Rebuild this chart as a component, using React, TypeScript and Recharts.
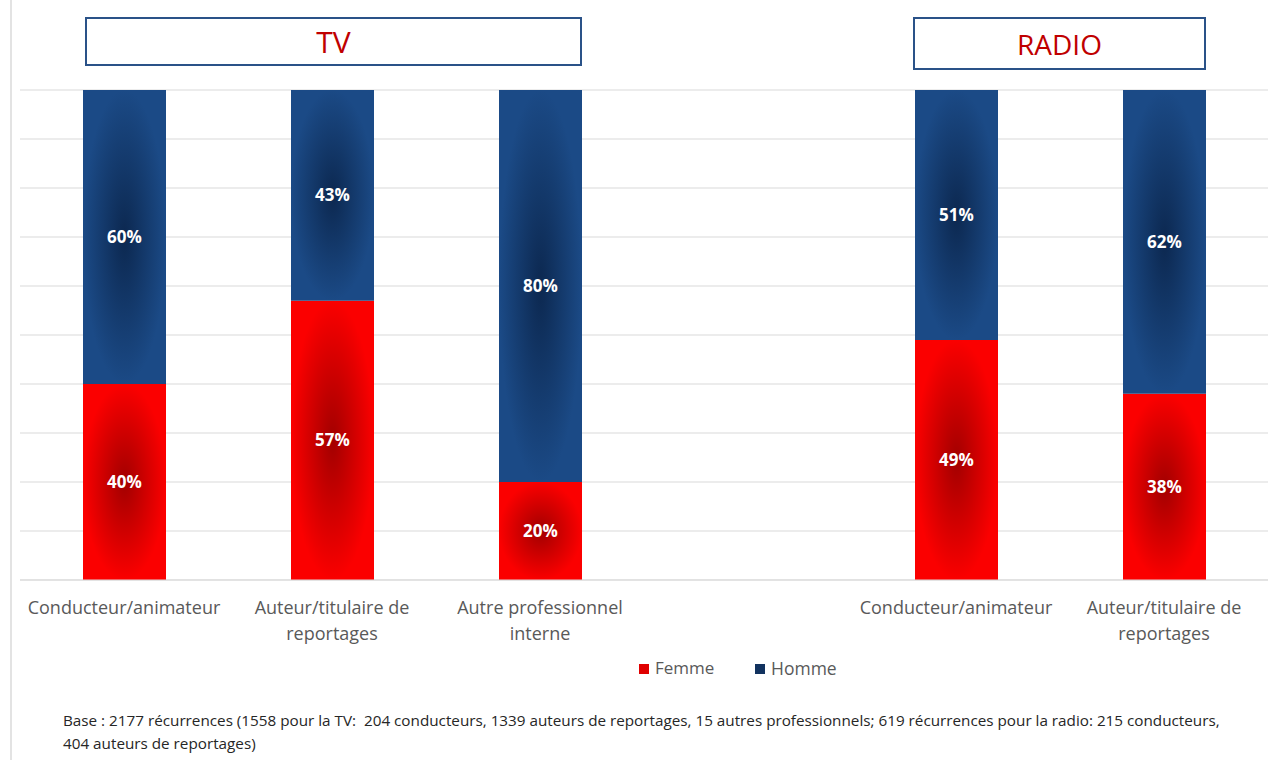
import React from 'react';
import { BarChart, Bar, XAxis, YAxis, CartesianGrid, LabelList } from 'recharts';

const categories = ['Conducteur/animateur', 'Auteur/titulaire de\nreportages', 'Autre professionnel\ninterne', '', 'Conducteur/animateur', 'Auteur/titulaire de\nreportages'];
const femme = [40, 57, 20, null, 49, 38];
const homme = [60, 43, 80, null, 51, 62];
const yTicks = [0, 10, 20, 30, 40, 50, 60, 70, 80, 90, 100];
const groupTitles = ['TV', 'RADIO'];
const legendLabels = ['Femme', 'Homme'];
const footnote = [
  'Base : 2177 récurrences (1558 pour la TV:  204 conducteurs, 1339 auteurs de reportages, 15 autres professionnels; 619 récurrences pour la radio: 215 conducteurs,',
  '404 auteurs de reportages)',
];

const data = categories.map((c, i) => ({ name: c, key: 'c' + i, femme: femme[i], homme: homme[i] }));

const FONT = '"Open Sans", "Noto Sans", sans-serif';

const Tick = (props: any) => {
  const { x, y, payload } = props;
  const idx = payload.index;
  const label = categories[idx] || '';
  const lines = label.split('\n');
  return (
    <g>
      {lines.map((l, i) => (
        <text key={i} x={x} y={y + 26 + i * 26} textAnchor="middle" fill="#595959" fontSize={18} fontFamily={FONT}>
          {l}
        </text>
      ))}
    </g>
  );
};

const renderLabel = (props: any) => {
  const { x, y, width, height, value } = props;
  if (value == null) return null;
  return (
    <text x={x + width / 2} y={y + height / 2} dy={6} textAnchor="middle" fill="#ffffff" fontSize={17} fontWeight="bold" fontFamily={FONT}>
      {value + '%'}
    </text>
  );
};

const titleStyle: React.CSSProperties = {
  position: 'absolute',
  top: 17,
  border: '2px solid #2a5288',
  display: 'flex',
  alignItems: 'center',
  justifyContent: 'center',
  color: '#c00000',
  fontFamily: FONT,
  boxSizing: 'border-box',
};

export default function App() {
  return (
    <div style={{ position: 'absolute', left: 0, top: 0, width: 1268, height: 760, background: '#fff', fontFamily: FONT }}>
      <div style={{ position: 'absolute', left: 10, top: 0, width: 2, height: 760, background: '#e3e3e3' }} />
      <BarChart width={1268} height={760} data={data} margin={{ top: 90, right: 0, left: 20, bottom: 150 }} barSize={83}>
        <defs>
          <radialGradient id="gradRed" cx="50%" cy="50%" r="50%">
            <stop offset="0%" stopColor="#a20000" />
            <stop offset="100%" stopColor="#fb0000" />
          </radialGradient>
          <radialGradient id="gradBlue" cx="50%" cy="50%" r="50%">
            <stop offset="0%" stopColor="#0c2850" />
            <stop offset="100%" stopColor="#1b4a86" />
          </radialGradient>
        </defs>
        <CartesianGrid vertical={false} stroke="#d9d9d9" />
        <YAxis hide domain={[0, 100]} ticks={yTicks} />
        <XAxis dataKey="key" tick={<Tick />} tickLine={false} axisLine={{ stroke: '#d9d9d9' }} interval={0} height={30} />
        <Bar dataKey="femme" stackId="a" fill="url(#gradRed)" isAnimationActive={false}>
          <LabelList dataKey="femme" content={renderLabel} />
        </Bar>
        <Bar dataKey="homme" stackId="a" fill="url(#gradBlue)" isAnimationActive={false}>
          <LabelList dataKey="homme" content={renderLabel} />
        </Bar>
      </BarChart>

      <div style={{ ...titleStyle, left: 85, width: 497, height: 49, fontSize: 30 }}>{groupTitles[0]}</div>
      <div style={{ ...titleStyle, left: 913, width: 293, height: 53, fontSize: 28 }}>{groupTitles[1]}</div>

      <span style={{ position: 'absolute', left: 639, top: 664, width: 10, height: 10, background: '#e00000' }} />
      <span style={{ position: 'absolute', left: 655, top: 656, fontSize: 17, color: '#595959' }}>{legendLabels[0]}</span>
      <span style={{ position: 'absolute', left: 755, top: 664, width: 10, height: 10, background: '#12325f' }} />
      <span style={{ position: 'absolute', left: 771, top: 656, fontSize: 17.5, color: '#595959' }}>{legendLabels[1]}</span>

      <div style={{ position: 'absolute', left: 63, top: 709, fontSize: 15.25, lineHeight: '23px', color: '#262626', fontFamily: FONT, whiteSpace: 'pre' }}>
        <div>{footnote[0]}</div>
        <div>{footnote[1]}</div>
      </div>
    </div>
  );
}
